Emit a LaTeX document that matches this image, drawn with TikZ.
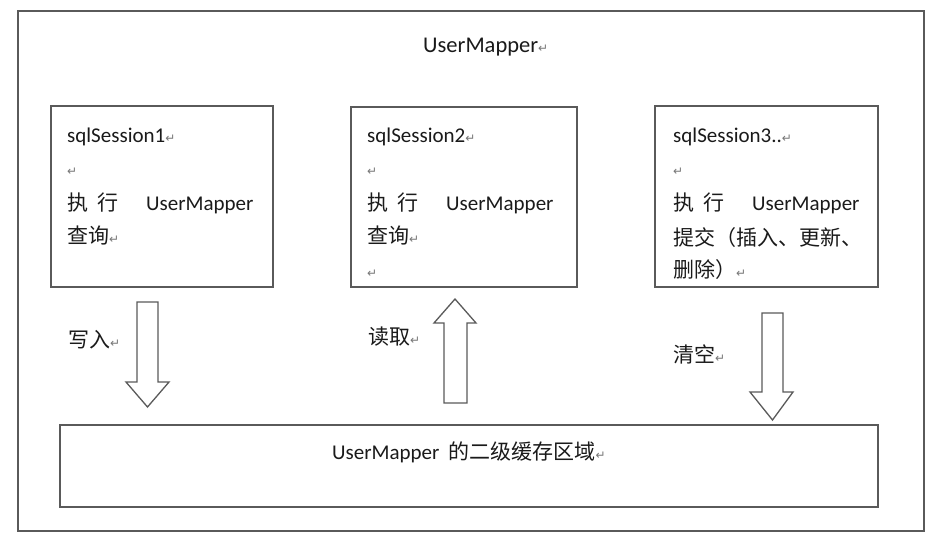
\documentclass[tikz,border=0pt]{standalone}
\usepackage{fontspec}
\setmainfont{Carlito}
\newfontfamily\cjk{Noto Sans CJK SC}
\newfontfamily\pmfont{DejaVu Sans}
\definecolor{linegray}{HTML}{5A5A5A}
\definecolor{txtcol}{HTML}{1A1A1A}
\definecolor{pmgray}{HTML}{777777}
\newcommand{\pmk}{{\pmfont\fontsize{12}{12}\selectfont\textcolor{pmgray}{↵}}}
\tikzset{
  sbox/.style={draw=linegray, line width=1.4pt, fill=white, inner sep=0pt},
  ptxt/.style={anchor=base west, inner sep=0pt, text=txtcol, font=\fontsize{21}{21}\selectfont},
  blockarrow/.style={draw=linegray, line width=1.3pt, fill=white, line join=miter}
}
\begin{document}
\begin{tikzpicture}[x=1pt,y=-1pt]
\useasboundingbox (0,0) rectangle (941,542);
% outer frame
\node[sbox, minimum width=906pt, minimum height=520pt] (outer) at (471,271) {};
\node[ptxt, font=\fontsize{22.5}{22.5}\selectfont] (title) at (423,52) {UserMapper\pmk};
% session boxes
\node[sbox, minimum width=222pt, minimum height=181pt] (s1) at (162,196.5) {};
\node[sbox, minimum width=226pt, minimum height=180pt] (s2) at (464,197) {};
\node[sbox, minimum width=223pt, minimum height=181pt] (s3) at (766.5,196.5) {};
% cache box
\node[sbox, minimum width=818pt, minimum height=82pt] (cache) at (469,466) {};
\node[ptxt] (cachetxt) at (332,459) {UserMapper\hspace{9pt}{\cjk 的二级缓存区域}\pmk};
% box 1 text
\node[ptxt] (s1a) at (67,142) {sqlSession1\pmk};
\node[ptxt] (s1b) at (67,175) {\pmk};
\node[ptxt] (s1c) at (67,210) {{\cjk 执}\hspace{9pt}{\cjk 行}\hspace{28pt}UserMapper};
\node[ptxt] (s1d) at (67,243) {{\cjk 查询}\pmk};
% box 2 text
\node[ptxt] (s2a) at (367,142) {sqlSession2\pmk};
\node[ptxt] (s2b) at (367,175) {\pmk};
\node[ptxt] (s2c) at (367,210) {{\cjk 执}\hspace{9pt}{\cjk 行}\hspace{28pt}UserMapper};
\node[ptxt] (s2d) at (367,243) {{\cjk 查询}\pmk};
\node[ptxt] (s2e) at (367,277) {\pmk};
% box 3 text
\node[ptxt] (s3a) at (673,142) {sqlSession3..\pmk};
\node[ptxt] (s3b) at (673,175) {\pmk};
\node[ptxt] (s3c) at (673,210) {{\cjk 执}\hspace{9pt}{\cjk 行}\hspace{28pt}UserMapper};
\node[ptxt] (s3d) at (673,245) {{\cjk 提交（插入、更新、}};
\node[ptxt] (s3e) at (673,277) {{\cjk 删除）}\pmk};
% labels
\node[ptxt] (lw) at (68,347) {{\cjk 写入}\pmk};
\node[ptxt] (lr) at (368,344) {{\cjk 读取}\pmk};
\node[ptxt] (lc) at (673,362) {{\cjk 清空}\pmk};
% block arrows
\coordinate (a1tip) at (147.5,407);
\draw[blockarrow] (137,302) -- (158,302) -- (158,382) -- (169,382) -- (a1tip) -- (126,382) -- (137,382) -- cycle;
\coordinate (a2tip) at (455,299);
\draw[blockarrow] (444,403) -- (467,403) -- (467,323) -- (476,323) -- (a2tip) -- (434,323) -- (444,323) -- cycle;
\coordinate (a3tip) at (772.5,420);
\draw[blockarrow] (762,313) -- (783,313) -- (783,392) -- (793,392) -- (a3tip) -- (750,392) -- (762,392) -- cycle;
\end{tikzpicture}
\end{document}
